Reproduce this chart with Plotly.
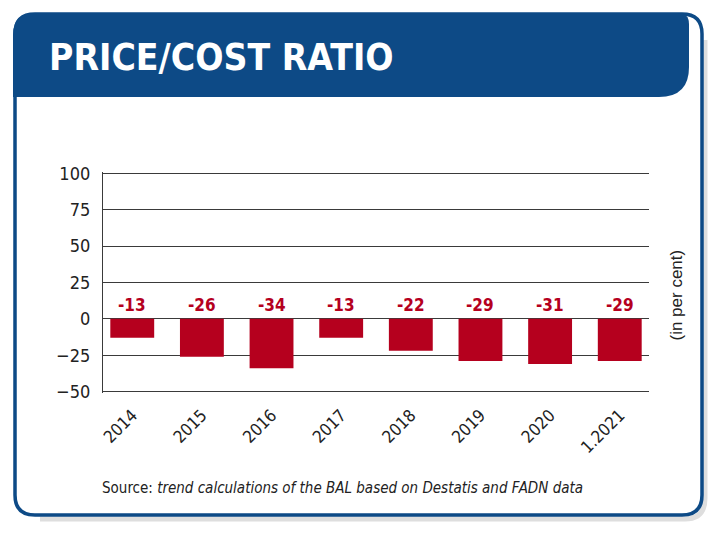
import plotly.graph_objects as go

YEARS = ["2014", "2015", "2016", "2017", "2018", "2019", "2020", "1.2021"]
RATIO = [-13, -26, -34, -13, -22, -29, -31, -29]
Y_TICKS = [-50, -25, 0, 25, 50, 75, 100]

TITLE = "PRICE/COST RATIO"
UNIT = "(in per cent)"
SOURCE = "Source: <i>trend calculations of the BAL based on Destatis and FADN data</i>"

W, H = 720, 538
ML, MR, MT, MB = 103, 71, 172, 145
PW, PH = W - ML - MR, H - MT - MB

BLUE = "#0d4a86"
RED = "#b5001e"
INK = "#222222"
GRID = "#3a3a3a"
NARROW = "DejaVu Sans Condensed, Liberation Sans Narrow, Roboto, sans-serif"


def px(x):
    return (x - ML) / PW


def py(y):
    return (H - MB - y) / PH


def path(points, closed=True):
    # points: list of (cmd, [(x, y), ...]) in screen pixels
    out = []
    for cmd, pts in points:
        coords = " ".join(f"{px(x):.5f},{py(y):.5f}" for x, y in pts)
        out.append(f"{cmd}{coords}")
    return " ".join(out) + (" Z" if closed else "")


frame = path([
    ("M", [(15, 34)]),
    ("Q", [(15, 14), (35, 14)]),
    ("L", [(682, 14)]),
    ("Q", [(702, 14), (702, 34)]),
    ("L", [(702, 495)]),
    ("Q", [(702, 515), (682, 515)]),
    ("L", [(35, 515)]),
    ("Q", [(15, 515), (15, 495)]),
])

shadow = path([
    ("M", [(705, 40)]),
    ("L", [(705, 498)]),
    ("Q", [(705, 519), (685, 519)]),
    ("L", [(40, 519)]),
], closed=False)

header = path([
    ("M", [(13, 97)]),
    ("L", [(13, 35)]),
    ("Q", [(13, 13), (35, 13)]),
    ("L", [(678, 13)]),
    ("Q", [(689, 13), (689, 24)]),
    ("L", [(689, 67)]),
    ("Q", [(689, 97), (659, 97)]),
])

fig = go.Figure(
    go.Bar(
        x=YEARS,
        y=RATIO,
        marker={"color": RED, "line": {"width": 0}},
        hoverinfo="skip",
    )
)

annotations = [
    {
        "text": f"<b>{v}</b>",
        "x": i,
        "y": 0,
        "xref": "x",
        "yref": "y",
        "yanchor": "bottom",
        "yshift": 2,
        "showarrow": False,
        "font": {"family": NARROW, "size": 17, "color": RED},
    }
    for i, v in enumerate(RATIO)
]

annotations += [
    {
        "text": f"<b>{TITLE}</b>",
        "xref": "paper",
        "yref": "paper",
        "x": px(47),
        "y": py(57),
        "xanchor": "left",
        "yanchor": "middle",
        "showarrow": False,
        "font": {"family": NARROW, "size": 37, "color": "white"},
    },
    {
        "text": UNIT,
        "xref": "paper",
        "yref": "paper",
        "x": px(687),
        "y": py(295),
        "textangle": -90,
        "showarrow": False,
        "font": {"family": "Liberation Sans, Arial, sans-serif", "size": 17, "color": INK},
    },
    {
        "text": SOURCE,
        "xref": "paper",
        "yref": "paper",
        "x": px(100),
        "y": py(488),
        "xanchor": "left",
        "yanchor": "middle",
        "showarrow": False,
        "font": {"family": NARROW, "size": 15, "color": INK},
    },
]

fig.update_layout(
    width=W,
    height=H,
    margin={"l": ML, "r": MR, "t": MT, "b": MB, "pad": 0},
    paper_bgcolor="white",
    plot_bgcolor="white",
    showlegend=False,
    bargap=0.37,
    font={"family": NARROW, "color": INK},
    xaxis={
        "type": "category",
        "range": [-0.42, 7.42],
        "showgrid": False,
        "zeroline": False,
        "showline": False,
        "ticks": "",
        "tickangle": -45,
        "ticklabelstandoff": 8,
        "tickfont": {"size": 17, "color": INK},
    },
    yaxis={
        "range": [-51, 101],
        "tickvals": Y_TICKS,
        "showgrid": True,
        "gridcolor": GRID,
        "gridwidth": 1.3,
        "zeroline": True,
        "zerolinecolor": GRID,
        "zerolinewidth": 1.3,
        "showline": True,
        "linecolor": GRID,
        "linewidth": 1.3,
        "ticks": "",
        "ticklabelstandoff": 8,
        "tickfont": {"size": 18, "color": INK},
    },
    shapes=[
        {"type": "path", "path": shadow, "xref": "paper", "yref": "paper",
         "line": {"color": "#dedede", "width": 5}, "layer": "below"},
        {"type": "path", "path": frame, "xref": "paper", "yref": "paper",
         "line": {"color": BLUE, "width": 3.5}, "layer": "below"},
        {"type": "path", "path": header, "xref": "paper", "yref": "paper",
         "fillcolor": BLUE, "line": {"width": 0}, "layer": "below"},
    ],
    annotations=annotations,
)

fig.write_html(
    "out.html",
    config={"displayModeBar": False},
    post_script="document.body.style.margin='0';",
)
